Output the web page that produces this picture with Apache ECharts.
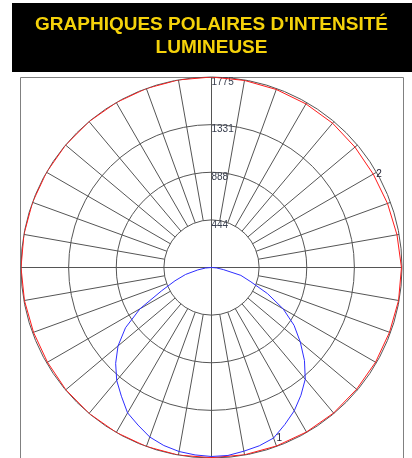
<!DOCTYPE html>
<html>
<head>
<meta charset="utf-8">
<script src="https://cdn.jsdelivr.net/npm/echarts@6/dist/echarts.min.js"></script>
<style>
  html, body { margin: 0; padding: 0; background: #fff; }
  #chart { width: 412px; height: 458px; }
</style>
</head>
<body>
<div id="chart"></div>
<script>
// courbe 2 (rouge) : une valeur tous les 10 degres, 0 = haut, sens horaire
const redAngles = [0, 10, 20, 30, 40, 50, 60, 70, 80, 90, 100, 110, 120, 130, 140, 150, 160, 170,
    180, 190, 200, 210, 220, 230, 240, 250, 260, 270, 280, 290, 300, 310, 320, 330, 340, 350, 360]
const redValues = [1775, 1770, 1765, 1760, 1755, 1745, 1740, 1745, 1755, 1770, 1770, 1765, 1765, 1765, 1770, 1770, 1770, 1772,
    1772, 1775, 1775, 1775, 1775, 1772, 1765, 1765, 1770, 1775, 1775, 1775, 1775, 1775, 1775, 1775, 1775, 1775, 1775]
// courbe 1 (bleue) : demi-plan bas, tous les 5 degres
const blueAngles = [90, 95, 100, 105, 110, 115, 120, 125, 130, 135, 140, 145, 150, 155, 160, 165, 170, 175,
    180, 185, 190, 195, 200, 205, 210, 215, 220, 225, 230, 235, 240, 245, 250, 255, 260, 265, 270]
const blueValues = [0, 47, 112, 283, 391, 576, 771, 939, 1080, 1225, 1359, 1453, 1542, 1615, 1691, 1720, 1738, 1758,
    1761, 1753, 1741, 1717, 1681, 1620, 1564, 1464, 1374, 1263, 1137, 978, 769, 512, 362, 250, 130, 56, 0]
const radiusTickLabels = ['444', '888', '1331', '1775']
const radiusMax = 1775
const radiusStep = 443.75
const redLabelAngle = 60
const blueLabelAngle = 160

const chartDom = document.getElementById('chart')
const chartInstance = echarts.init(chartDom, null, { renderer: 'canvas' })

const center = [211.5, 267.5]
const R = 190.5
const ringInner = R * radiusStep / radiusMax // pas de rayons dans le premier cercle
const gridColor = '#555'

const makeData = (angles, values, labelAngle, labelText) => {
    return angles.map((a, i) => {
        const item = { value: [values[i], a] }
        if (a === labelAngle) {
            item.label = { show: true, formatter: labelText }
        }
        return item
    })
}

const option = {
    animation: false,
    graphic: [
        {
            type: 'rect',
            shape: { x: 12, y: 3, width: 400, height: 69 },
            style: { fill: '#000' }
        },
        {
            type: 'text',
            style: {
                text: "GRAPHIQUES POLAIRES D'INTENSITÉ",
                x: 211.5, y: 25,
                align: 'center', verticalAlign: 'middle',
                fill: '#f5d20a',
                font: 'bold 19px "Liberation Sans", Arial, sans-serif'
            }
        },
        {
            type: 'text',
            style: {
                text: 'LUMINEUSE',
                x: 211.5, y: 48,
                align: 'center', verticalAlign: 'middle',
                fill: '#f5d20a',
                font: 'bold 19px "Liberation Sans", Arial, sans-serif'
            }
        },
        {
            type: 'rect',
            shape: { x: 20.5, y: 77.5, width: 383, height: 400 },
            style: { fill: 'none', stroke: '#808080', lineWidth: 1 }
        }
    ],
    polar: [
        { center: center, radius: R },
        { center: center, radius: [ringInner, R] }
    ],
    angleAxis: [
        {
            polarIndex: 0,
            type: 'value',
            min: 0,
            max: 360,
            interval: 90,
            startAngle: 90,
            clockwise: true,
            axisLine: { show: false },
            axisTick: { show: false },
            axisLabel: { show: false },
            splitLine: { show: true, lineStyle: { color: gridColor, width: 1 } }
        },
        {
            polarIndex: 1,
            type: 'value',
            min: 0,
            max: 360,
            interval: 10,
            startAngle: 90,
            clockwise: true,
            axisLine: { show: false },
            axisTick: { show: false },
            axisLabel: { show: false },
            splitLine: { show: true, lineStyle: { color: gridColor, width: 1 } }
        }
    ],
    radiusAxis: [
        {
            polarIndex: 0,
            type: 'value',
            min: 0,
            max: radiusMax,
            interval: radiusStep,
            axisLine: { show: false },
            axisTick: { show: false },
            splitLine: { show: false },
            axisLabel: {
                show: true,
                showMinLabel: false,
                formatter: (v, i) => (i === 0 ? '' : radiusTickLabels[i - 1]),
                color: '#3a4050',
                fontSize: 10,
                fontFamily: '"Liberation Sans", Arial, sans-serif',
                align: 'left',
                verticalAlign: 'top',
                margin: 0
            }
        },
        {
            polarIndex: 1,
            type: 'value',
            min: radiusStep,
            max: radiusMax,
            interval: radiusStep,
            axisLine: { show: false },
            axisTick: { show: false },
            axisLabel: { show: false },
            splitLine: { show: true, lineStyle: { color: gridColor, width: 1 } }
        }
    ],
    series: [
        {
            name: '2',
            type: 'line',
            coordinateSystem: 'polar',
            polarIndex: 0,
            data: makeData(redAngles, redValues, redLabelAngle, '2'),
            symbol: 'circle',
            symbolSize: 0,
            showSymbol: true,
            lineStyle: { color: '#ff1a1a', width: 1 },
            itemStyle: { color: '#ff1a1a' },
            label: {
                show: false,
                position: 'right',
                distance: 3,
                color: '#223',
                fontSize: 10,
                fontFamily: '"Liberation Sans", Arial, sans-serif'
            },
            z: 3
        },
        {
            name: '1',
            type: 'line',
            coordinateSystem: 'polar',
            polarIndex: 0,
            data: makeData(blueAngles, blueValues, blueLabelAngle, '1'),
            symbol: 'circle',
            symbolSize: 0,
            showSymbol: true,
            lineStyle: { color: '#2e2eff', width: 1 },
            itemStyle: { color: '#2e2eff' },
            label: {
                show: false,
                position: 'right',
                distance: 3,
                color: '#223',
                fontSize: 10,
                fontFamily: '"Liberation Sans", Arial, sans-serif'
            },
            z: 4
        }
    ]
}
chartInstance.setOption(option)
</script>
</body>
</html>
